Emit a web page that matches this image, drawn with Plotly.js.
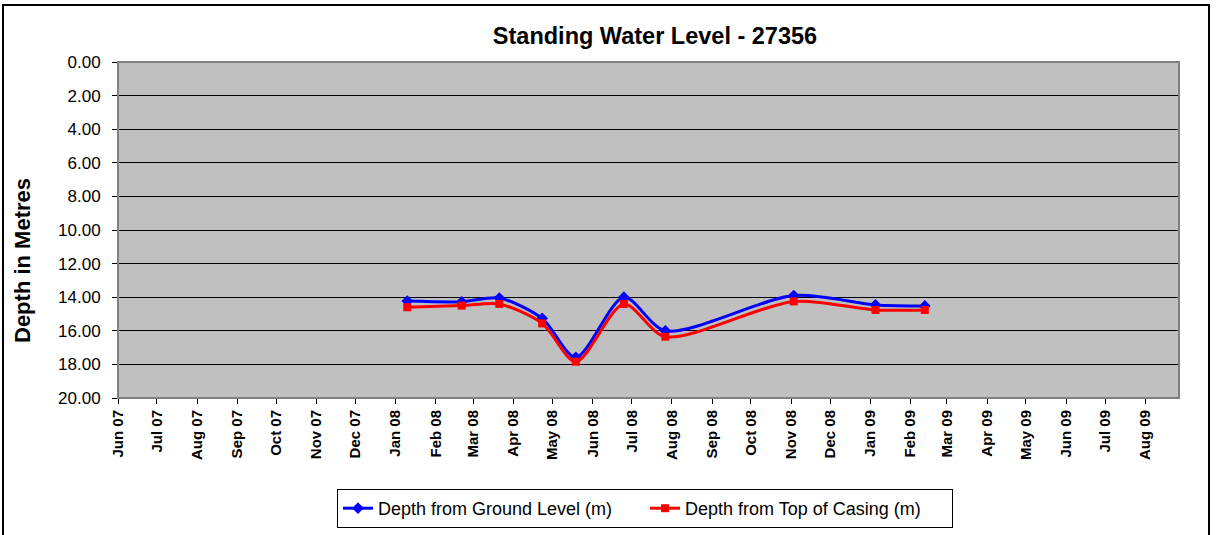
<!DOCTYPE html>
<html>
<head>
<meta charset="utf-8">
<script src="https://cdn.plot.ly/plotly-3.0.1.min.js"></script>
<style>
html,body{margin:0;padding:0;background:#fff;}
#chart{width:1223px;height:535px;}
</style>
</head>
<body>
<div id="chart"></div>
<script>
// Data
const sampleDates = ['2008-01-10','2008-02-21','2008-03-21','2008-04-23','2008-05-19','2008-06-25','2008-07-27','2008-11-03','2009-01-05','2009-02-12'];
const depthGround = [14.23, 14.27, 14.05, 15.26, 17.58, 14.00, 16.00, 13.90, 14.46, 14.52];
const depthCasing = [14.60, 14.50, 14.40, 15.56, 17.84, 14.40, 16.35, 14.25, 14.76, 14.76];
const seriesNames = ['Depth from Ground Level (m)', 'Depth from Top of Casing (m)'];
const chartTitle = 'Standing Water Level - 27356';
const yTitle = 'Depth in Metres';

const FONT = 'Liberation Sans, Arial, sans-serif';

// plot area in pixels
const L = 118, T = 62, R = 1179, B = 398;
const W = R - L, H = B - T;
const px = x => (x - L) / W;
const py = y => (B - y) / H;

const traces = [
  {
    x: sampleDates, y: depthGround, name: seriesNames[0],
    type: 'scatter', mode: 'lines+markers',
    line: {color: '#0000FF', width: 3, shape: 'spline', smoothing: 0.8},
    marker: {symbol: 'diamond', size: 9, color: '#0000FF'}
  },
  {
    x: sampleDates, y: depthCasing, name: seriesNames[1],
    type: 'scatter', mode: 'lines+markers',
    line: {color: '#FF0000', width: 3, shape: 'spline', smoothing: 0.8},
    marker: {symbol: 'square', size: 8, color: '#FF0000'}
  }
];

const layout = {
  width: 1223, height: 535,
  margin: {l: L, r: 1223 - R, t: T, b: 535 - B, pad: 0},
  paper_bgcolor: '#FFFFFF',
  plot_bgcolor: '#C0C0C0',
  font: {family: FONT, color: '#000'},
  showlegend: true,
  title: {
    text: '<b>' + chartTitle + '</b>',
    font: {family: FONT, size: 23.5, color: '#000'},
    xref: 'paper', x: px(655), xanchor: 'center',
    yref: 'container', y: 1 - 36/535, yanchor: 'middle'
  },
  xaxis: {
    type: 'date',
    range: ['2007-06-01', '2009-08-27'],
    tick0: '2007-06-01', dtick: 'M1',
    tickformat: '%b %y',
    tickangle: -90,
    tickfont: {family: FONT, size: 15, color: '#000', weight: 'bold'},
    ticks: 'outside', ticklen: 5, tickcolor: '#000', tickwidth: 1,
    showgrid: false, zeroline: false,
    showline: true, linecolor: '#000', linewidth: 1,
    automargin: false,
    fixedrange: true
  },
  yaxis: {
    range: [20, 0],
    tick0: 0, dtick: 2,
    tickformat: '.2f',
    tickfont: {family: FONT, size: 17, color: '#000'},
    ticks: 'outside', ticklen: 5, tickcolor: '#000', tickwidth: 1,
    ticklabelstandoff: 8,
    showgrid: true, gridcolor: '#000', gridwidth: 1,
    zeroline: false,
    showline: true, linecolor: '#000', linewidth: 1,
    automargin: false,
    fixedrange: true
  },
  legend: {
    orientation: 'h',
    xref: 'paper', x: px(645), xanchor: 'center',
    yref: 'container', y: 1 - 489/535, yanchor: 'top',
    bordercolor: '#000', borderwidth: 1, bgcolor: '#FFFFFF',
    font: {family: FONT, size: 18, color: '#000'},
    itemwidth: 30,
    entrywidth: 262
  },
  annotations: [
    {
      text: '<b>' + yTitle + '</b>', textangle: -90,
      xref: 'paper', yref: 'paper', x: px(22), y: py(261),
      xanchor: 'center', yanchor: 'middle', showarrow: false,
      font: {family: FONT, size: 22, color: '#000'}
    }
  ],
  shapes: [
    {type: 'rect', xref: 'paper', yref: 'paper', x0: 0, x1: 1, y0: 0, y1: 1,
     line: {color: '#808080', width: 2}, layer: 'above'},
    {type: 'rect', xref: 'paper', yref: 'paper', x0: px(3), x1: px(1209), y0: py(545), y1: py(5),
     line: {color: '#000', width: 2}, layer: 'below'}
  ]
};

Plotly.newPlot('chart', traces, layout, {staticPlot: true, displayModeBar: false});
</script>
</body>
</html>
